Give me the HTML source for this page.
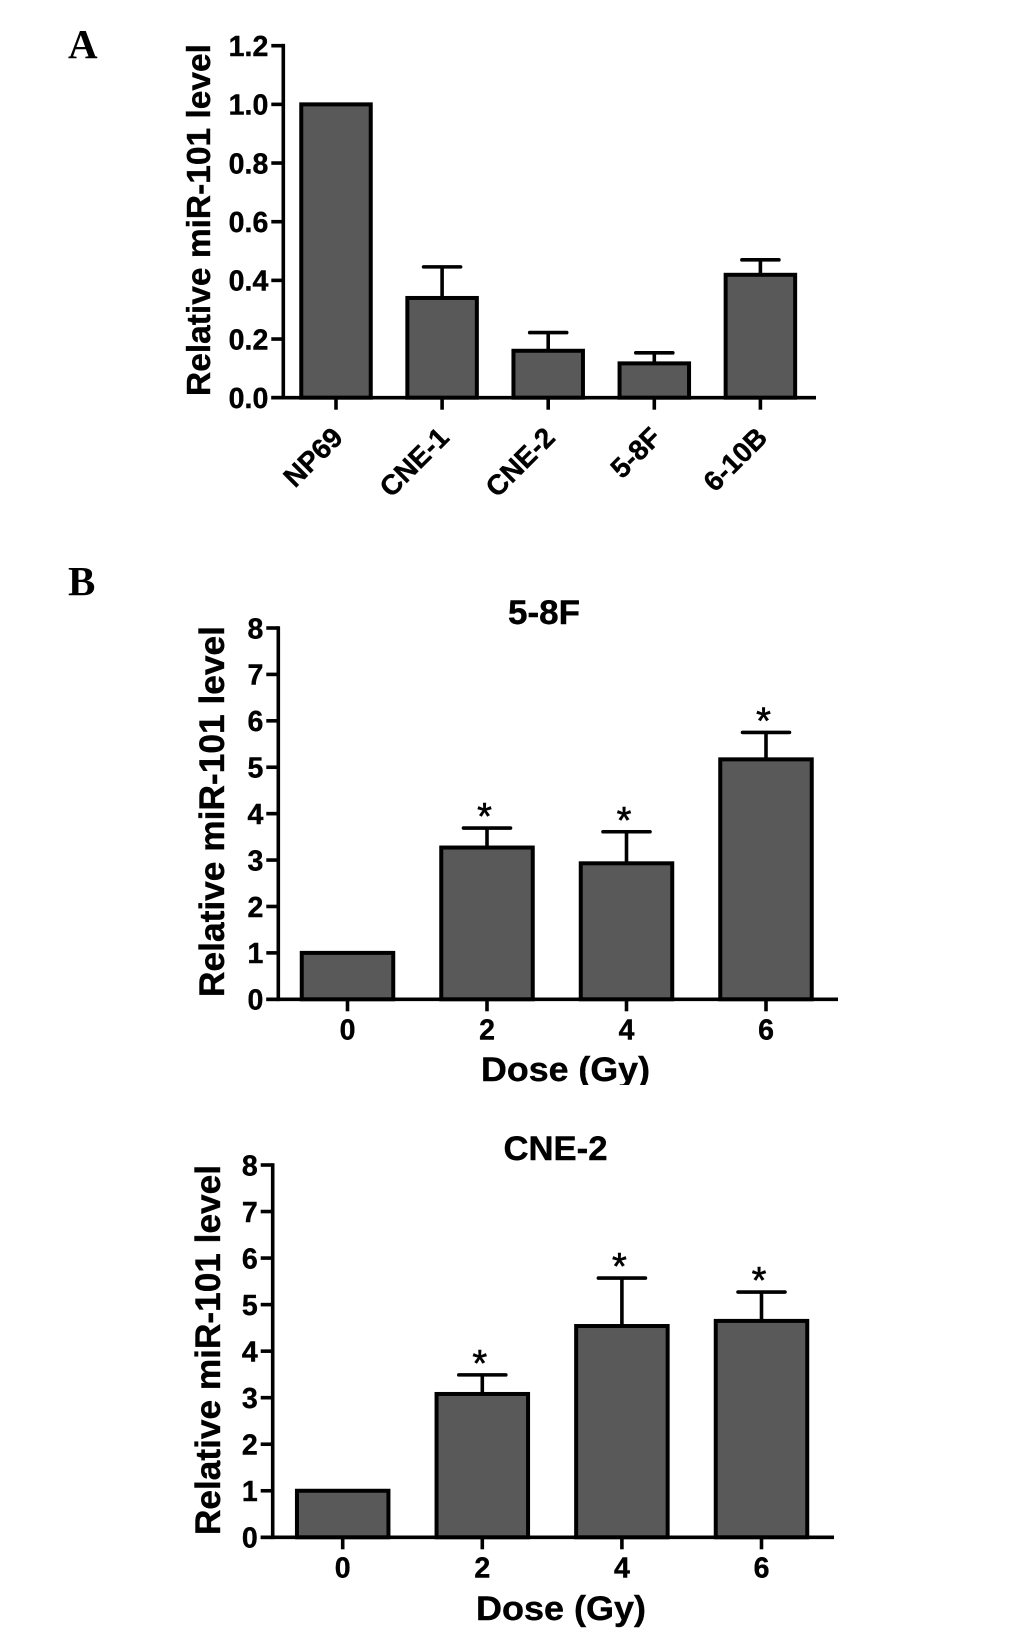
<!DOCTYPE html>
<html lang="en">
<head>
<meta charset="utf-8">
<title>Relative miR-101 level charts</title>
<style>
html,body{margin:0;padding:0;background:#fff;}
svg{display:block;}
text{font-family:"Liberation Sans",Arial,sans-serif;font-weight:bold;fill:#000;stroke:#000;stroke-width:0.4px;}
.panel-letter{font-family:"Liberation Serif","Times New Roman",serif;font-size:41px;stroke-width:0;}
</style>
</head>
<body>
<svg id="figure" xmlns="http://www.w3.org/2000/svg" width="1033" height="1636" viewBox="0 0 1033 1636">
  <defs>
    <clipPath id="dose-clip"><rect x="440" y="1040" width="240" height="45"/></clipPath>
  </defs>
  <rect x="0" y="0" width="1033" height="1636" fill="#fff"/>
  <text class="panel-letter" x="68" y="58">A</text>
  <text class="panel-letter" x="68" y="595">B</text>

  <g id="chart-a">
    <text transform="translate(210,396) rotate(-90)" font-size="33.5" textLength="352" lengthAdjust="spacingAndGlyphs">Relative miR-101 level</text>
  </g>

  <g id="chart-b1">
    <text x="508" y="624" font-size="34.5" textLength="72" lengthAdjust="spacingAndGlyphs">5-8F</text>
    <text transform="translate(224,997) rotate(-90)" font-size="35" textLength="371" lengthAdjust="spacingAndGlyphs">Relative miR-101 level</text>
    <text x="481" y="1081" font-size="34" textLength="169" lengthAdjust="spacingAndGlyphs" clip-path="url(#dose-clip)">Dose (Gy)</text>
  </g>

  <g id="chart-b2">
    <text x="503.5" y="1160" font-size="34" textLength="104" lengthAdjust="spacingAndGlyphs">CNE-2</text>
    <text transform="translate(220,1535) rotate(-90)" font-size="35" textLength="370" lengthAdjust="spacingAndGlyphs">Relative miR-101 level</text>
    <text x="476" y="1620" font-size="34" textLength="170" lengthAdjust="spacingAndGlyphs">Dose (Gy)</text>
  </g>
</svg>
<script>
// ---- chart data ----
const cellLineCategories = ['NP69', 'CNE-1', 'CNE-2', '5-8F', '6-10B'];
const cellLineValues = [1.0, 0.34, 0.16, 0.117, 0.419];
const cellLineErrors = [0, 0.106, 0.062, 0.036, 0.051];
const cellLineTicks = ['0.0', '0.2', '0.4', '0.6', '0.8', '1.0', '1.2'];

const doseCategories = ['0', '2', '4', '6'];
const doseTicks = ['0', '1', '2', '3', '4', '5', '6', '7', '8'];

const fiveEightFValues = [1.0, 3.27, 2.93, 5.17];
const fiveEightFErrors = [0, 0.42, 0.68, 0.58];
const fiveEightFMarks = ['', '*', '*', '*'];

const cne2Values = [1.0, 3.08, 4.54, 4.65];
const cne2Errors = [0, 0.41, 1.03, 0.62];
const cne2Marks = ['', '*', '*', '*'];

// ---- drawing ----
const NS = 'http://www.w3.org/2000/svg';
function make(parent, tag, attrs, content) {
  const el = document.createElementNS(NS, tag);
  for (const k in attrs) el.setAttribute(k, attrs[k]);
  if (content !== undefined) el.textContent = content;
  parent.appendChild(el);
  return el;
}

function drawChart(o) {
  const root = document.getElementById(o.id);
  const yMax = Number(o.ticks[o.ticks.length - 1]);
  const yScale = v => o.yBase - (v / yMax) * (o.yBase - o.yTop);
  const xScale = i => o.x0 + i * o.step;
  const SW = 3.6;

  o.values.forEach((v, i) => {
    const cx = xScale(i);
    if (o.errors[i] > 0) {
      const stem = make(root, 'line', {x1: cx, x2: cx, y1: yScale(v), y2: yScale(v + o.errors[i]), stroke: '#000', 'stroke-width': SW});
      
      
      const cap = make(root, 'line', {x1: cx - o.capW / 2, x2: cx + o.capW / 2, y1: yScale(v + o.errors[i]), y2: yScale(v + o.errors[i]), stroke: '#000', 'stroke-width': SW, 'stroke-linecap': 'round'});
      
      
    }
    const bar = make(root, 'rect', {x: cx - o.barW / 2, y: yScale(v), width: o.barW, height: o.yBase - yScale(v), fill: '#595959', stroke: '#000', 'stroke-width': 4});
    
    
    if (o.marks && o.marks[i]) {
      const star = make(root, 'text', {x: cx - 2.5, y: yScale(v + o.errors[i]) + 1, 'font-size': 38, 'text-anchor': 'middle', style: 'font-weight:normal;stroke-width:0.6px'}, o.marks[i]);
      
      
    }
  });

  const yAxis = make(root, 'line', {x1: o.axisX, x2: o.axisX, y1: o.yTop - SW / 2, y2: o.yBase + SW / 2, stroke: '#000', 'stroke-width': SW});
  
  
  const xAxis = make(root, 'line', {x1: o.axisX - 12, x2: o.xEnd, y1: o.yBase, y2: o.yBase, stroke: '#000', 'stroke-width': SW});
  
  

  o.ticks.forEach(t => {
    const y = yScale(Number(t));
    const tick = make(root, 'line', {x1: o.axisX - 12, x2: o.axisX, y1: y, y2: y, stroke: '#000', 'stroke-width': SW});
    
    
    const label = make(root, 'text', {x: o.axisX - 15, y: y + 10.3, 'font-size': 28.5, 'text-anchor': 'end'}, t);
    
    
  });

  o.categories.forEach((c, i) => {
    const cx = xScale(i);
    const tick = make(root, 'line', {x1: cx, x2: cx, y1: o.yBase, y2: o.yBase + 12, stroke: '#000', 'stroke-width': SW});
    
    
    if (o.rotated) {
      const lx = cx + 8.5, ly = o.yBase + 41.5;
      const label = make(root, 'text', {transform: 'translate(' + lx + ',' + ly + ') rotate(-45)', 'font-size': 28, 'text-anchor': 'end'}, c);
      
      
    } else {
      const label = make(root, 'text', {x: cx, y: o.yBase + 40, 'font-size': 28.5, 'text-anchor': 'middle'}, c);
      
      
    }
  });
}

drawChart({id: 'chart-a', categories: cellLineCategories, values: cellLineValues, errors: cellLineErrors, ticks: cellLineTicks,
  yBase: 397.7, yTop: 45.7, axisX: 283.3, xEnd: 816, x0: 336, step: 106.1, barW: 69.5, capW: 37, rotated: true});
drawChart({id: 'chart-b1', categories: doseCategories, values: fiveEightFValues, errors: fiveEightFErrors, marks: fiveEightFMarks, ticks: doseTicks,
  yBase: 999.3, yTop: 628, axisX: 278.3, xEnd: 838, x0: 347.5, step: 139.5, barW: 91.5, capW: 47});
drawChart({id: 'chart-b2', categories: doseCategories, values: cne2Values, errors: cne2Errors, marks: cne2Marks, ticks: doseTicks,
  yBase: 1537.3, yTop: 1165, axisX: 272.7, xEnd: 834, x0: 342.7, step: 139.6, barW: 91.5, capW: 47});
</script>
</body>
</html>
